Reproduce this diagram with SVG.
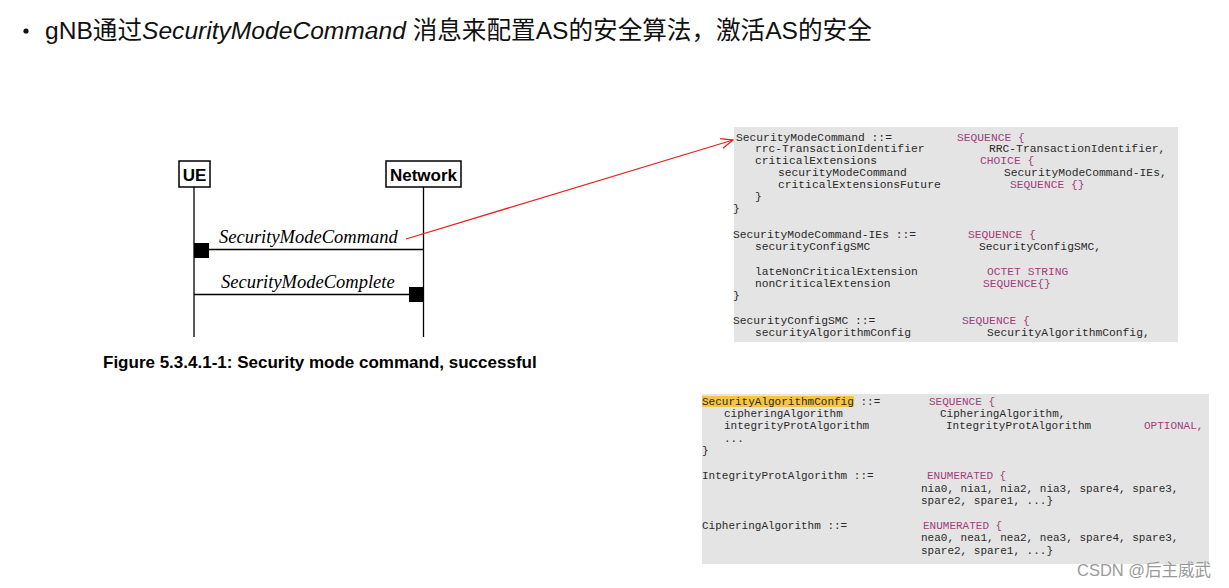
<svg xmlns="http://www.w3.org/2000/svg" width="1229" height="588" viewBox="0 0 1229 588">
<defs>
<marker id="openArrow" markerWidth="14" markerHeight="12" refX="13" refY="6" orient="auto" markerUnits="userSpaceOnUse">
<path d="M1,1 L13,6 L1,11" fill="none" stroke="#e8201c" stroke-width="1.3"/>
</marker>
<style>
.title{font-family:"Liberation Sans","Noto Sans CJK SC",sans-serif;font-size:24.6px;fill:#111}
.actor{fill:#fff;stroke:#000;stroke-width:1.5}
.actorText{font-family:"Liberation Sans",Arial,sans-serif;font-weight:bold;font-size:17px;fill:#000}
.life{stroke:#000;stroke-width:1.3}
.msg{stroke:#000;stroke-width:1.3}
.msgText{font-family:"Liberation Serif","Times New Roman",serif;font-style:italic;font-size:18.5px;fill:#000}
.caption{font-family:"Liberation Sans",Arial,sans-serif;font-weight:bold;font-size:17px;fill:#000}
.codebg{fill:#e4e4e4}
.code{font-family:"Liberation Mono","Courier New",monospace;font-size:11.3px;fill:#2a2a2a;white-space:pre}
#code2 .code{font-size:11px}
.kw{fill:#a2407c}
.wm{font-family:"Liberation Sans","Noto Sans CJK SC",sans-serif;font-size:16.5px;fill:#9a9a9a}
</style>
</defs>
<rect width="1229" height="588" fill="#fff"/>

<g id="title">
<circle cx="26" cy="31" r="2.6" fill="#111"/>
<text class="title" x="45" y="39">gNB通过<tspan font-style="italic">SecurityModeCommand</tspan> 消息来配置AS的安全算法，激活AS的安全</text>
</g>

<g id="ue">
<rect class="actor" x="179" y="161" width="31" height="26"/>
<text class="actorText" x="194.5" y="180.5" text-anchor="middle">UE</text>
<line class="life" x1="194" y1="187" x2="194" y2="337"/>
</g>
<g id="network">
<rect class="actor" x="386" y="161" width="75" height="26"/>
<text class="actorText" x="423.5" y="180.5" text-anchor="middle">Network</text>
<line class="life" x1="423.5" y1="187" x2="423.5" y2="337"/>
</g>

<g id="connectors">
<line class="msg" x1="194" y1="249.5" x2="423.5" y2="249.5"/>
<rect x="194" y="243" width="15" height="15" fill="#000"/>
<text class="msgText" x="219" y="243">SecurityModeCommand</text>
<line class="msg" x1="194" y1="294.5" x2="423.5" y2="294.5"/>
<rect x="409" y="287" width="15" height="15" fill="#000"/>
<text class="msgText" x="221" y="288">SecurityModeComplete</text>
<line x1="406" y1="239" x2="733" y2="140" stroke="#e8201c" stroke-width="1.3" marker-end="url(#openArrow)"/>
</g>

<g id="caption">
<text class="caption" x="103" y="368">Figure 5.3.4.1-1: Security mode command, successful</text>
</g>

<g id="code1">
<rect class="codebg" x="734" y="127" width="444" height="215"/>
<text class="code" x="736" y="141">SecurityModeCommand ::=</text>
<text class="code kw" x="957" y="141">SEQUENCE {</text>
<text class="code" x="755" y="152">rrc-TransactionIdentifier</text>
<text class="code" x="989" y="152">RRC-TransactionIdentifier,</text>
<text class="code" x="755" y="164">criticalExtensions</text>
<text class="code kw" x="980" y="164">CHOICE {</text>
<text class="code" x="778" y="176">securityModeCommand</text>
<text class="code" x="1004" y="176">SecurityModeCommand-IEs,</text>
<text class="code" x="778" y="188">criticalExtensionsFuture</text>
<text class="code kw" x="1010" y="188">SEQUENCE {}</text>
<text class="code" x="755" y="200">}</text>
<text class="code" x="733" y="212">}</text>
<text class="code" x="733" y="238">SecurityModeCommand-IEs ::=</text>
<text class="code kw" x="968" y="238">SEQUENCE {</text>
<text class="code" x="755" y="250">securityConfigSMC</text>
<text class="code" x="979" y="250">SecurityConfigSMC,</text>
<text class="code" x="755" y="275">lateNonCriticalExtension</text>
<text class="code kw" x="987" y="275">OCTET STRING</text>
<text class="code" x="755" y="287">nonCriticalExtension</text>
<text class="code kw" x="983" y="287">SEQUENCE{}</text>
<text class="code" x="733" y="299">}</text>
<text class="code" x="733" y="324">SecurityConfigSMC ::=</text>
<text class="code kw" x="962" y="324">SEQUENCE {</text>
<text class="code" x="755" y="336">securityAlgorithmConfig</text>
<text class="code" x="987" y="336">SecurityAlgorithmConfig,</text>
</g>

<g id="code2">
<rect class="codebg" x="702" y="394" width="507" height="170"/>
<rect x="702" y="396" width="152" height="11" fill="#f5c542"/>
<text class="code" x="702" y="405">SecurityAlgorithmConfig ::=</text>
<text class="code kw" x="929" y="405">SEQUENCE {</text>
<text class="code" x="724" y="417">cipheringAlgorithm</text>
<text class="code" x="940" y="417">CipheringAlgorithm,</text>
<text class="code" x="724" y="429">integrityProtAlgorithm</text>
<text class="code" x="946" y="429">IntegrityProtAlgorithm</text>
<text class="code kw" x="1144" y="429">OPTIONAL,</text>
<text class="code" x="724" y="442">...</text>
<text class="code" x="702" y="454">}</text>
<text class="code" x="702" y="479">IntegrityProtAlgorithm ::=</text>
<text class="code kw" x="927" y="479">ENUMERATED {</text>
<text class="code" x="921" y="492">nia0, nia1, nia2, nia3, spare4, spare3,</text>
<text class="code" x="921" y="504">spare2, spare1, ...}</text>
<text class="code" x="702" y="529">CipheringAlgorithm ::=</text>
<text class="code kw" x="923" y="529">ENUMERATED {</text>
<text class="code" x="921" y="541">nea0, nea1, nea2, nea3, spare4, spare3,</text>
<text class="code" x="921" y="554">spare2, spare1, ...}</text>
</g>

<g id="watermark">
<text class="wm" x="1077" y="576">CSDN @后主威武</text>
</g>
</svg>
